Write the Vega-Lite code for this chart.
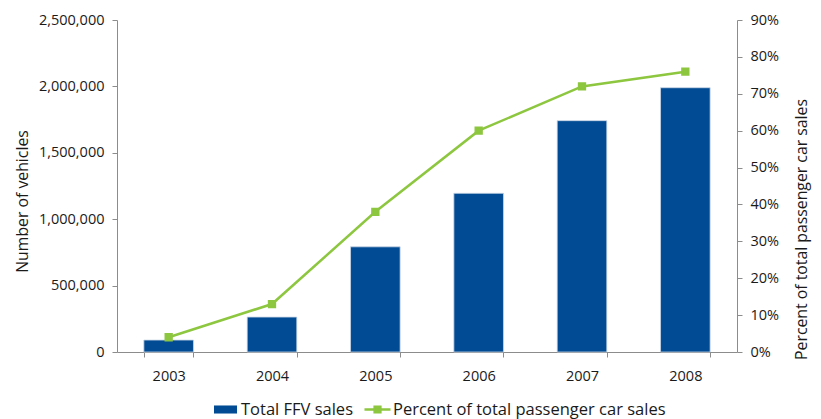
{
  "$schema": "https://vega.github.io/schema/vega-lite/v6.json",
  "width": 620,
  "height": 332,
  "autosize": {"type": "none"},
  "padding": {"left": 117, "top": 20, "right": 84, "bottom": 67},
  "background": "white",
  "config": {
    "font": "Open Sans",
    "view": {"stroke": null},
    "axis": {
      "grid": false,
      "domainColor": "#8c8c8c",
      "tickColor": "#8c8c8c",
      "labelColor": "#1a1a1a",
      "titleColor": "#1a1a1a",
      "labelFont": "Open Sans",
      "titleFont": "Open Sans",
      "labelFontSize": 14.5,
      "titleFontSize": 15.8,
      "titleFontWeight": "normal",
      "tickSize": 5
    },
    "legend": {
      "labelFont": "Open Sans",
      "labelFontSize": 16.5,
      "labelColor": "#1a1a1a",
      "labelLimit": 500,
      "padding": 0
    }
  },
  "data": {
    "values": [
      {"year": "2003", "sales": 90000, "pct": 0.04},
      {"year": "2004", "sales": 263000, "pct": 0.13},
      {"year": "2005", "sales": 792000, "pct": 0.38},
      {"year": "2006", "sales": 1195000, "pct": 0.60},
      {"year": "2007", "sales": 1742000, "pct": 0.72},
      {"year": "2008", "sales": 1990000, "pct": 0.76}
    ]
  },
  "encoding": {
    "x": {
      "field": "year",
      "type": "nominal",
      "scale": {"paddingInner": 0.52, "paddingOuter": 0.26},
      "axis": {"title": null, "labelAngle": 0, "tickBand": "extent", "labelPadding": 12, "domainColor": "#8c8c8c"}
    }
  },
  "layer": [
    {
      "mark": {"type": "bar", "stroke": "#c9d6e6", "strokeWidth": 0.8},
      "encoding": {
        "y": {
          "field": "sales",
          "type": "quantitative",
          "scale": {"domain": [0, 2500000]},
          "axis": {
            "title": "Number of vehicles",
            "values": [0, 500000, 1000000, 1500000, 2000000, 2500000],
            "format": ",.0f",
            "labelPadding": 8,
            "titlePadding": 8,
            "titleY": 181
          }
        },
        "fill": {
          "datum": "Total FFV sales",
          "scale": {"range": ["#004B93"]},
          "legend": {
            "title": null,
            "orient": "none",
            "legendX": 97,
            "legendY": 378,
            "direction": "horizontal",
            "symbolType": "M-1,-0.35H1V0.35H-1Z",
            "symbolSize": 529,
            "symbolStrokeWidth": 0,
            "labelOffset": 4
          }
        }
      }
    },
    {
      "mark": {
        "type": "line",
        "strokeWidth": 2.5,
        "point": {"shape": "square", "size": 40, "filled": true, "fill": "#8DC63F", "stroke": null}
      },
      "encoding": {
        "y": {
          "field": "pct",
          "type": "quantitative",
          "scale": {"domain": [0, 0.9]},
          "axis": {
            "title": "Percent of total passenger car sales",
            "orient": "right",
            "values": [0, 0.1, 0.2, 0.3, 0.4, 0.5, 0.6, 0.7, 0.8, 0.9],
            "format": ".0%",
            "labelPadding": 8,
            "titlePadding": 16,
            "titleAngle": -90,
            "titleBaseline": "top",
            "titleY": 209
          }
        },
        "stroke": {
          "datum": "Percent of total passenger car sales",
          "scale": {"range": ["#8DC63F"]},
          "legend": {
            "title": null,
            "orient": "none",
            "legendX": 246,
            "legendY": 375,
            "direction": "horizontal",
            "symbolType": "M-1,0H1M-0.22,-0.22H0.22V0.22H-0.22Z",
            "symbolSize": 676,
            "symbolStrokeWidth": 2.5,
            "symbolFillColor": "#8DC63F",
            "labelOffset": 1
          }
        }
      }
    }
  ],
  "resolve": {"scale": {"y": "independent"}}
}
